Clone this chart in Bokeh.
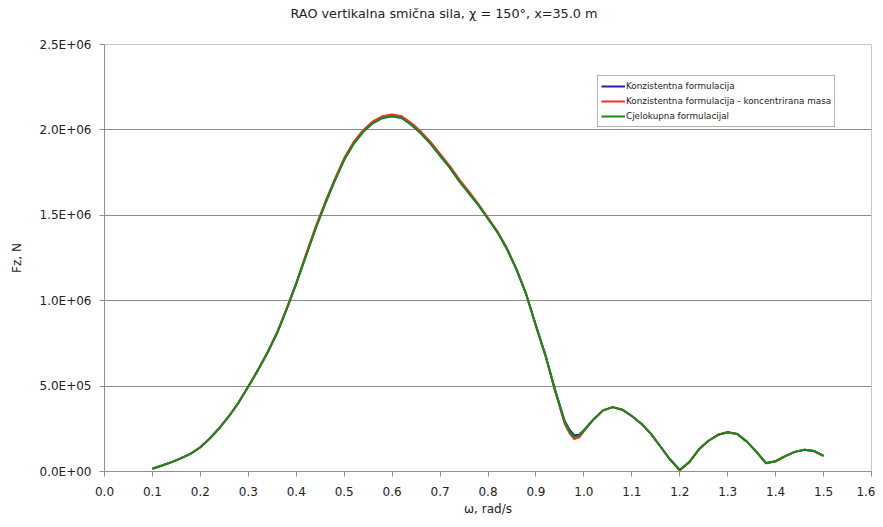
from bokeh.plotting import figure
from bokeh.models import FixedTicker, Legend, LegendItem, Title
from bokeh.embed import file_html
from bokeh.resources import INLINE

omega = [0.10, 0.12, 0.14, 0.16, 0.18, 0.20, 0.22, 0.24, 0.26, 0.28,
         0.30, 0.32, 0.34, 0.36, 0.38, 0.40, 0.42, 0.44, 0.46, 0.48,
         0.50, 0.52, 0.54, 0.56, 0.58, 0.60, 0.62, 0.64, 0.66, 0.68,
         0.70, 0.72, 0.74, 0.76, 0.78, 0.80, 0.82, 0.84, 0.86, 0.88,
         0.90, 0.92, 0.94, 0.96, 0.97, 0.98, 0.99, 1.00, 1.02, 1.04, 1.06, 1.08,
         1.10, 1.12, 1.14, 1.16, 1.18, 1.20, 1.22, 1.24, 1.26, 1.28,
         1.30, 1.32, 1.34, 1.36, 1.38, 1.40, 1.42, 1.44, 1.46, 1.48, 1.50]

cjelokupna = [1.6e4, 3.5e4, 5.5e4, 7.8e4, 1.05e5, 1.42e5, 1.95e5, 2.55e5, 3.25e5, 4.05e5,
              4.98e5, 5.92e5, 6.95e5, 8.1e5, 9.5e5, 1.10e6, 1.26e6, 1.42e6, 1.565e6, 1.70e6,
              1.825e6, 1.92e6, 1.99e6, 2.04e6, 2.07e6, 2.08e6, 2.07e6, 2.03e6, 1.98e6, 1.92e6,
              1.85e6, 1.78e6, 1.70e6, 1.63e6, 1.56e6, 1.48e6, 1.40e6, 1.30e6, 1.18e6, 1.035e6,
              8.55e5, 6.8e5, 4.75e5, 2.88e5, 2.35e5, 2.02e5, 2.1e5, 2.4e5, 3.05e5, 3.58e5, 3.77e5, 3.62e5,
              3.25e5, 2.8e5, 2.2e5, 1.45e5, 7.0e4, 8.0e3, 5.5e4, 1.3e5, 1.8e5, 2.15e5,
              2.3e5, 2.2e5, 1.75e5, 1.15e5, 4.8e4, 6.0e4, 9.0e4, 1.15e5, 1.27e5, 1.2e5, 9.2e4]

konz_koncentrirana = [1.6e4, 3.5e4, 5.5e4, 7.8e4, 1.05e5, 1.42e5, 1.95e5, 2.55e5, 3.25e5, 4.05e5,
                      4.98e5, 5.95e5, 6.98e5, 8.15e5, 9.55e5, 1.105e6, 1.27e6, 1.43e6, 1.575e6, 1.71e6,
                      1.835e6, 1.93e6, 2.0e6, 2.05e6, 2.08e6, 2.09e6, 2.08e6, 2.04e6, 1.99e6, 1.93e6,
                      1.86e6, 1.79e6, 1.71e6, 1.64e6, 1.565e6, 1.485e6, 1.405e6, 1.305e6, 1.18e6, 1.035e6,
                      8.5e5, 6.75e5, 4.7e5, 2.8e5, 2.25e5, 1.9e5, 2.0e5, 2.35e5, 3.05e5, 3.58e5, 3.77e5, 3.62e5,
                      3.25e5, 2.8e5, 2.2e5, 1.45e5, 7.0e4, 6.0e3, 5.5e4, 1.3e5, 1.8e5, 2.15e5,
                      2.3e5, 2.2e5, 1.75e5, 1.15e5, 4.8e4, 6.0e4, 9.0e4, 1.15e5, 1.27e5, 1.2e5, 9.2e4]

konzistentna = [1.6e4, 3.5e4, 5.5e4, 7.8e4, 1.05e5, 1.42e5, 1.95e5, 2.55e5, 3.25e5, 4.05e5,
                4.98e5, 5.92e5, 6.95e5, 8.1e5, 9.5e5, 1.10e6, 1.26e6, 1.42e6, 1.565e6, 1.70e6,
                1.825e6, 1.92e6, 1.99e6, 2.04e6, 2.07e6, 2.08e6, 2.07e6, 2.03e6, 1.98e6, 1.92e6,
                1.85e6, 1.78e6, 1.70e6, 1.63e6, 1.56e6, 1.48e6, 1.40e6, 1.30e6, 1.18e6, 1.035e6,
                8.55e5, 6.8e5, 4.78e5, 2.95e5, 2.45e5, 2.12e5, 2.15e5, 2.42e5, 3.05e5, 3.58e5, 3.77e5, 3.62e5,
                3.25e5, 2.8e5, 2.2e5, 1.45e5, 7.0e4, 1.0e4, 5.5e4, 1.3e5, 1.8e5, 2.15e5,
                2.3e5, 2.2e5, 1.75e5, 1.15e5, 5.0e4, 6.0e4, 9.0e4, 1.15e5, 1.27e5, 1.2e5, 9.2e4]

series_names = ["Konzistentna formulacija",
                "Konzistentna formulacija - koncentrirana masa",
                "Cjelokupna formulacijal"]

x_ticks = [0.0, 0.1, 0.2, 0.3, 0.4, 0.5, 0.6, 0.7, 0.8, 0.9, 1.0, 1.1, 1.2, 1.3, 1.4, 1.5, 1.6]
x_tick_labels = ["0.0", "0.1", "0.2", "0.3", "0.4", "0.5", "0.6", "0.7", "0.8", "0.9",
                 "1.0", "1.1", "1.2", "1.3", "1.4", "1.5", "1.6"]
y_ticks = [0, 500000, 1000000, 1500000, 2000000, 2500000]
y_tick_labels = ["0.0E+00", "5.0E+05", "1.0E+06", "1.5E+06", "2.0E+06", "2.5E+06"]
grid_ticks = [500000, 1000000, 1500000, 2000000]

FONT = "DejaVu Sans"
TXT = "#222222"

p = figure(width=875, height=519, x_range=(0, 1.6), y_range=(0, 2.5e6),
           output_backend="svg", toolbar_location=None,
           min_border_left=104, min_border_right=4, min_border_top=44, min_border_bottom=48)

p.title.text = "RAO vertikalna smična sila, χ = 150°, x=35.0 m"
p.title.align = "left"
p.title.offset = 186
p.title.text_font = FONT
p.title.text_font_size = "12.8px"
p.title.text_font_style = "normal"
p.title.text_color = TXT
p.title.standoff = 2

# empty spacer between the title and the plot area
spacer = Title(text="\u00a0", text_font=FONT, text_font_size="12px", standoff=7)
p.add_layout(spacer, "above")

p.outline_line_color = "#c8c8c8"
p.outline_line_width = 1
p.background_fill_color = "white"
p.border_fill_color = "white"

p.xgrid.visible = False
p.ygrid.ticker = FixedTicker(ticks=grid_ticks)
p.ygrid.grid_line_color = "#8c8c8c"
p.ygrid.grid_line_width = 1

for ax in (p.xaxis[0], p.yaxis[0]):
    ax.axis_line_color = "#909090"
    ax.major_tick_line_color = "#909090"
    ax.major_tick_in = 0
    ax.major_tick_out = 5
    ax.minor_tick_line_color = None
    ax.major_label_text_font = FONT
    ax.major_label_text_font_size = "12px"
    ax.major_label_text_color = TXT
    ax.axis_label_text_font = FONT
    ax.axis_label_text_font_size = "12px"
    ax.axis_label_text_font_style = "normal"
    ax.axis_label_text_color = TXT

p.xaxis.ticker = FixedTicker(ticks=x_ticks)
p.xaxis.major_label_overrides = dict(zip(x_ticks, x_tick_labels))
p.xaxis.major_label_standoff = 10
p.xaxis.axis_label = "ω, rad/s"
p.xaxis.axis_label_standoff = 3

p.yaxis.ticker = FixedTicker(ticks=y_ticks)
p.yaxis.major_label_overrides = dict(zip(y_ticks, y_tick_labels))
p.yaxis.major_label_standoff = 8
p.yaxis.axis_label = "Fz, N"
p.yaxis.axis_label_standoff = 13

colors = ["#2020a0", "#ff2a2a", "#178a17"]
r1 = p.line(omega, konzistentna, line_color=colors[0], line_width=2)
r2 = p.line(omega, konz_koncentrirana, line_color=colors[1], line_width=2)
r3 = p.line(omega, cjelokupna, line_color=colors[2], line_width=2)

legend = Legend(items=[LegendItem(label=series_names[0], renderers=[r1]),
                       LegendItem(label=series_names[1], renderers=[r2]),
                       LegendItem(label=series_names[2], renderers=[r3])],
                location=(493, 344))
legend.label_text_font = FONT
legend.label_text_font_size = "8.8px"
legend.label_text_color = TXT
legend.glyph_width = 24
legend.glyph_height = 14
legend.label_height = 14
legend.label_standoff = 1
legend.spacing = 1
legend.padding = 3
legend.margin = 0
legend.border_line_color = "#666666"
legend.border_line_width = 1
legend.background_fill_alpha = 1
p.add_layout(legend)

open("out.html", "w").write(file_html(p, INLINE))
